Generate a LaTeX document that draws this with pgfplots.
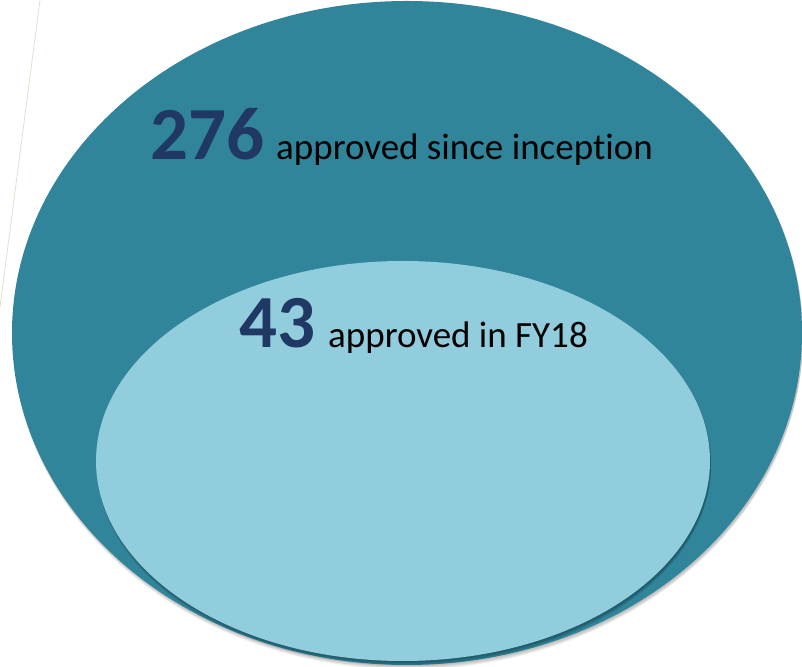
\documentclass[border=0pt]{standalone}
\usepackage{pgfplots}
\pgfplotsset{compat=1.18}
\usepackage{fontspec}
\setmainfont{Carlito}[Ligatures=NoCommon]
\definecolor{outerc}{RGB}{49,133,155}
\definecolor{innerc}{RGB}{146,205,221}
\definecolor{numc}{RGB}{31,56,100}
\definecolor{linec}{RGB}{216,228,204}
\begin{document}
\begin{tikzpicture}
\begin{axis}[
  width=802bp, height=667bp, scale only axis,
  xmin=0, xmax=802, ymin=0, ymax=667,
  hide axis, clip=true,
]
% thin guide line
\draw[linec, line width=0.8bp] (axis cs:40,667) -- (axis cs:0,360);
% outer ellipse shadow
\pgfplotsinvokeforeach{1,2,3,4,5,6}{
  \fill[black, opacity=0.045] (axis cs:408,333.5-#1*0.7) ellipse [x radius=395, y radius=332];
}
\fill[outerc] (axis cs:407,334) ellipse [x radius=395, y radius=332];
% inner ellipse shadow
\pgfplotsinvokeforeach{1,2,3,4,5,6}{
  \fill[black, opacity=0.055] (axis cs:404,205.5-#1*0.7) ellipse [x radius=307, y radius=200];
}
\fill[innerc] (axis cs:403,206) ellipse [x radius=307, y radius=200];
% labels
\node[anchor=base west, inner sep=0pt, text=numc, font=\fontsize{75bp}{80bp}\selectfont\bfseries] at (axis cs:150,507) {276};
\node[anchor=base west, inner sep=0pt, text=black, font=\fontsize{37bp}{42bp}\selectfont] at (axis cs:276,507) {approved since inception};
\node[anchor=base west, inner sep=0pt, text=numc, font=\fontsize{75bp}{80bp}\selectfont\bfseries] at (axis cs:239,319) {43};
\node[anchor=base west, inner sep=0pt, text=black, font=\fontsize{37bp}{42bp}\selectfont] at (axis cs:328,319) {approved in FY18};
\end{axis}
\end{tikzpicture}
\end{document}
